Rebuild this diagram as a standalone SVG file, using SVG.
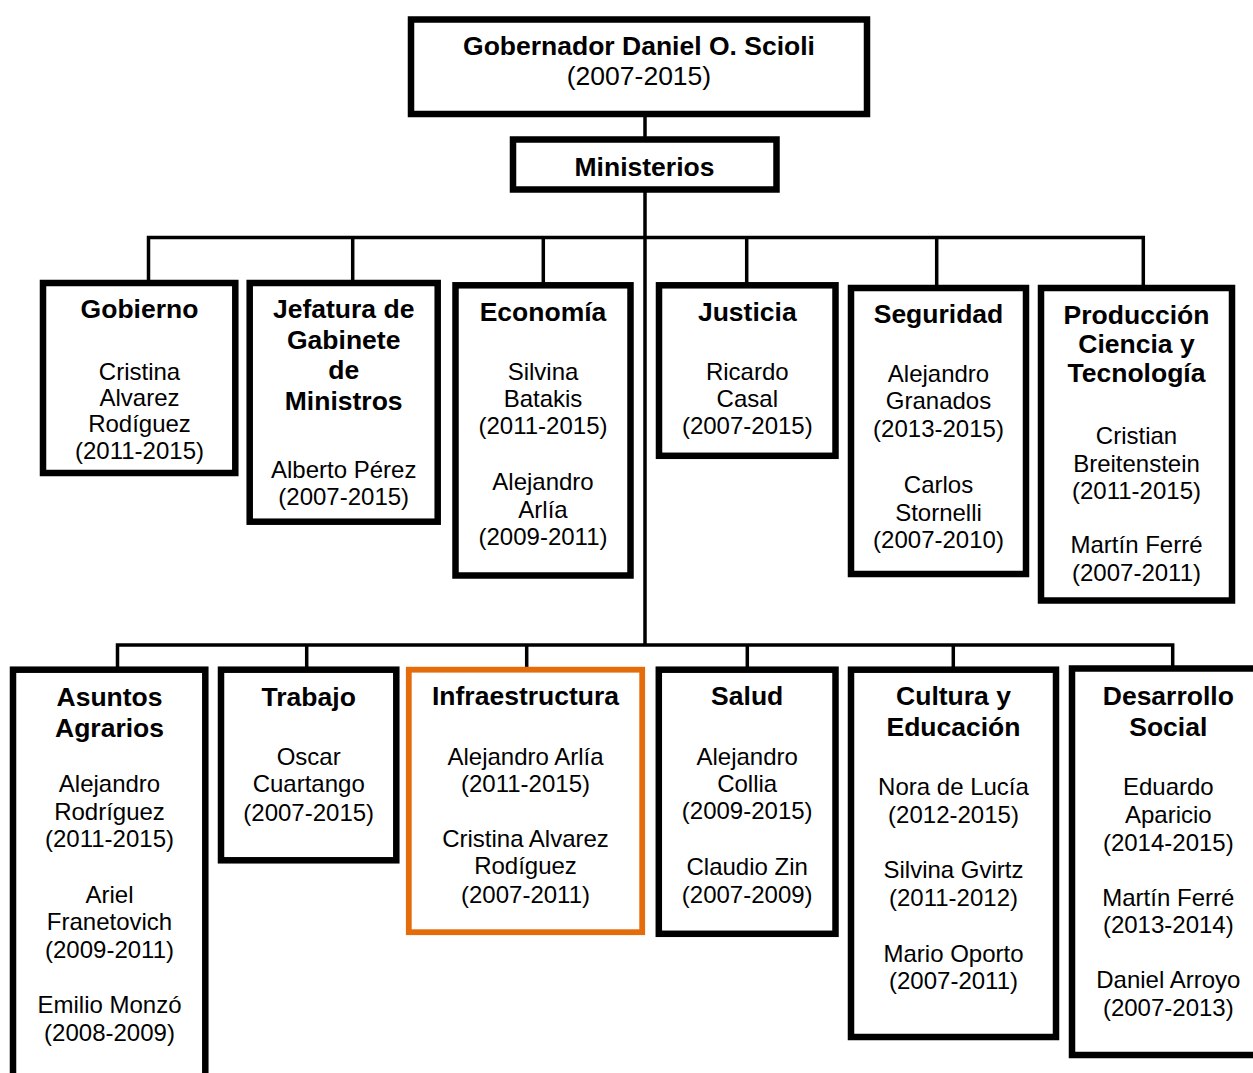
<svg xmlns="http://www.w3.org/2000/svg" width="1253" height="1073" viewBox="0 0 1253 1073">
  <style>
    .box { fill: #fff; stroke: #000; stroke-width: 6.5; }
    .hl { fill: #fff; stroke: #E46C0A; stroke-width: 5.8; }
    .link { fill: none; stroke: #000; stroke-width: 3.5; stroke-linejoin: miter; }
    text { font-family: "Liberation Sans", Arial, sans-serif; text-anchor: middle; fill: #000; }
    .t { font-weight: bold; font-size: 26.5px; }
    .n { font-size: 24px; }
    .big { font-size: 26.5px; }
  </style>
  <rect width="1253" height="1073" fill="#fff"/>

  <!-- connectors -->
  <g id="connectors">
    <path class="link" d="M645 115 V139"/>
    <path class="link" d="M645 189 V645"/>
    <path class="link" d="M148.5 283 V237.5 H1143.3 V288"/>
    <path class="link" d="M352.7 237.5 V283 M543.3 237.5 V285 M746.7 237.5 V285 M936.7 237.5 V288"/>
    <path class="link" d="M117.5 670 V645 H1172.7 V669"/>
    <path class="link" d="M306.7 645 V670 M526.7 645 V670 M747.3 645 V670 M953.3 645 V670"/>
  </g>

  <!-- governor -->
  <g id="gobernador">
    <rect class="box" x="411" y="19.5" width="456" height="94.5"/>
    <text class="t" x="639" y="55">Gobernador Daniel O. Scioli</text>
    <text class="big" x="639" y="85">(2007-2015)</text>
  </g>

  <g id="ministerios">
    <rect class="box" x="513" y="139.5" width="263.5" height="50"/>
    <text class="t" x="644.5" y="175.5">Ministerios</text>
  </g>

  <!-- first row of ministries -->
  <g id="gobierno">
    <rect class="box" x="43" y="283" width="192.3" height="190"/>
    <text class="t" x="139.5" y="318">Gobierno</text>
    <text class="n" x="139.5" y="380">Cristina</text>
    <text class="n" x="139.5" y="406">Alvarez</text>
    <text class="n" x="139.5" y="432">Rodíguez</text>
    <text class="n" x="139.5" y="459">(2011-2015)</text>
  </g>

  <g id="jefatura">
    <rect class="box" x="249.7" y="283" width="188" height="238.7"/>
    <text class="t" x="343.7" y="318">Jefatura de</text>
    <text class="t" x="343.7" y="348.5">Gabinete</text>
    <text class="t" x="343.7" y="379">de</text>
    <text class="t" x="343.7" y="409.5">Ministros</text>
    <text class="n" x="343.7" y="478.3">Alberto Pérez</text>
    <text class="n" x="343.7" y="505">(2007-2015)</text>
  </g>

  <g id="economia">
    <rect class="box" x="455.5" y="285.3" width="175" height="290.2"/>
    <text class="t" x="543" y="320.7">Economía</text>
    <text class="n" x="543" y="380">Silvina</text>
    <text class="n" x="543" y="406.7">Batakis</text>
    <text class="n" x="543" y="433.5">(2011-2015)</text>
    <text class="n" x="543" y="490">Alejandro</text>
    <text class="n" x="543" y="517.7">Arlía</text>
    <text class="n" x="543" y="545">(2009-2011)</text>
  </g>

  <g id="justicia">
    <rect class="box" x="659" y="285.3" width="176.5" height="170.5"/>
    <text class="t" x="747.3" y="320.7">Justicia</text>
    <text class="n" x="747.3" y="380">Ricardo</text>
    <text class="n" x="747.3" y="406.7">Casal</text>
    <text class="n" x="747.3" y="434">(2007-2015)</text>
  </g>

  <g id="seguridad">
    <rect class="box" x="851" y="288" width="175" height="286"/>
    <text class="t" x="938.5" y="323.3">Seguridad</text>
    <text class="n" x="938.5" y="381.7">Alejandro</text>
    <text class="n" x="938.5" y="409.3">Granados</text>
    <text class="n" x="938.5" y="436.7">(2013-2015)</text>
    <text class="n" x="938.5" y="493.3">Carlos</text>
    <text class="n" x="938.5" y="520.7">Stornelli</text>
    <text class="n" x="938.5" y="548.3">(2007-2010)</text>
  </g>

  <g id="produccion">
    <rect class="box" x="1041" y="288" width="191" height="312.5"/>
    <text class="t" x="1136.5" y="324">Producción</text>
    <text class="t" x="1136.5" y="353.3">Ciencia y</text>
    <text class="t" x="1136.5" y="382.3">Tecnología</text>
    <text class="n" x="1136.5" y="444.3">Cristian</text>
    <text class="n" x="1136.5" y="471.7">Breitenstein</text>
    <text class="n" x="1136.5" y="499">(2011-2015)</text>
    <text class="n" x="1136.5" y="553.3">Martín Ferré</text>
    <text class="n" x="1136.5" y="581">(2007-2011)</text>
  </g>

  <!-- second row of ministries -->
  <g id="asuntos-agrarios">
    <rect class="box" x="13" y="669.7" width="192.3" height="430"/>
    <text class="t" x="109.5" y="706">Asuntos</text>
    <text class="t" x="109.5" y="736.7">Agrarios</text>
    <text class="n" x="109.5" y="791.7">Alejandro</text>
    <text class="n" x="109.5" y="820">Rodríguez</text>
    <text class="n" x="109.5" y="847.3">(2011-2015)</text>
    <text class="n" x="109.5" y="902.7">Ariel</text>
    <text class="n" x="109.5" y="930">Franetovich</text>
    <text class="n" x="109.5" y="958.3">(2009-2011)</text>
    <text class="n" x="109.5" y="1012.7">Emilio Monzó</text>
    <text class="n" x="109.5" y="1040.7">(2008-2009)</text>
  </g>

  <g id="trabajo">
    <rect class="box" x="221" y="669.7" width="175.3" height="190.6"/>
    <text class="t" x="308.7" y="706">Trabajo</text>
    <text class="n" x="308.7" y="765">Oscar</text>
    <text class="n" x="308.7" y="792.3">Cuartango</text>
    <text class="n" x="308.7" y="820.7">(2007-2015)</text>
  </g>

  <g id="infraestructura">
    <rect class="hl" x="408.8" y="669.7" width="233.4" height="262.5"/>
    <text class="t" x="525.5" y="705">Infraestructura</text>
    <text class="n" x="525.5" y="765">Alejandro Arlía</text>
    <text class="n" x="525.5" y="791.7">(2011-2015)</text>
    <text class="n" x="525.5" y="847.3">Cristina Alvarez</text>
    <text class="n" x="525.5" y="874.3">Rodíguez</text>
    <text class="n" x="525.5" y="902.7">(2007-2011)</text>
  </g>

  <g id="salud">
    <rect class="box" x="658.8" y="669.7" width="176.7" height="264.1"/>
    <text class="t" x="747.2" y="705">Salud</text>
    <text class="n" x="747.2" y="765">Alejandro</text>
    <text class="n" x="747.2" y="791.7">Collia</text>
    <text class="n" x="747.2" y="819.3">(2009-2015)</text>
    <text class="n" x="747.2" y="875">Claudio Zin</text>
    <text class="n" x="747.2" y="903.3">(2007-2009)</text>
  </g>

  <g id="cultura-educacion">
    <rect class="box" x="851" y="669.7" width="205" height="367.3"/>
    <text class="t" x="953.5" y="705">Cultura y</text>
    <text class="t" x="953.5" y="736">Educación</text>
    <text class="n" x="953.5" y="795">Nora de Lucía</text>
    <text class="n" x="953.5" y="822.7">(2012-2015)</text>
    <text class="n" x="953.5" y="878.3">Silvina Gvirtz</text>
    <text class="n" x="953.5" y="906">(2011-2012)</text>
    <text class="n" x="953.5" y="961.7">Mario Oporto</text>
    <text class="n" x="953.5" y="989.3">(2007-2011)</text>
  </g>

  <g id="desarrollo-social">
    <rect class="box" x="1072" y="668.5" width="194" height="386.5"/>
    <text class="t" x="1168.3" y="705">Desarrollo</text>
    <text class="t" x="1168.3" y="736">Social</text>
    <text class="n" x="1168.3" y="795">Eduardo</text>
    <text class="n" x="1168.3" y="822.7">Aparicio</text>
    <text class="n" x="1168.3" y="850.7">(2014-2015)</text>
    <text class="n" x="1168.3" y="906">Martín Ferré</text>
    <text class="n" x="1168.3" y="933.3">(2013-2014)</text>
    <text class="n" x="1168.3" y="988.3">Daniel Arroyo</text>
    <text class="n" x="1168.3" y="1016">(2007-2013)</text>
  </g>
</svg>
